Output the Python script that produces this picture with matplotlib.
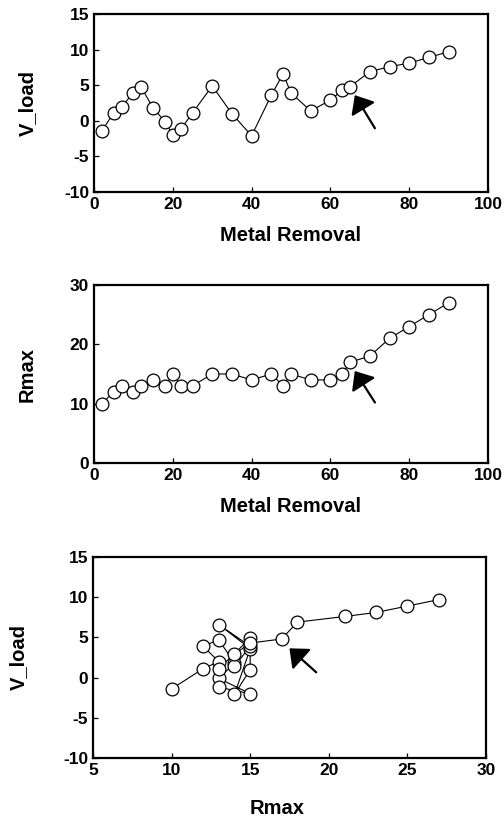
import matplotlib
matplotlib.use("Agg")
import matplotlib.pyplot as plt

plt.rcParams['font.family'] = ['Liberation Sans', 'DejaVu Sans']
plt.rcParams['axes.unicode_minus'] = False

# ---- data ----
metal_removal = [2, 5, 7, 10, 12, 15, 18, 20, 22, 25, 30, 35, 40, 45, 48, 50,
                 55, 60, 63, 65, 70, 75, 80, 85, 90]
v_load = [-1.4, 1.1, 2.0, 3.9, 4.7, 1.8, -0.1, -2.0, -1.2, 1.1, 4.9, 1.0, -2.1,
          3.6, 6.6, 3.9, 1.4, 2.9, 4.3, 4.8, 6.9, 7.6, 8.1, 8.9, 9.7]
rmax = [10, 12, 13, 12, 13, 14, 13, 15, 13, 13, 15, 15, 14, 15, 13, 15,
        14, 14, 15, 17, 18, 21, 23, 25, 27]

# arrows: (tip, tail) in data coordinates
arrow1 = ((66.2, 3.6), (71.3, -1.05))
arrow2 = ((66.2, 15.5), (71.3, 10.2))
arrow3 = ((17.5, 3.64), (19.2, 0.66))

W, H = 504, 821
fig = plt.figure(figsize=(W / 100, H / 100), dpi=100)

def px_axes(left, right, top, bottom):
    return fig.add_axes([left / W, 1 - bottom / H, (right - left) / W, (bottom - top) / H])

ax1 = px_axes(94, 488, 14, 192)
ax2 = px_axes(94, 488, 285, 463)
ax3 = px_axes(93, 486, 557, 758)

TICK_FS = 12.5
LABEL_FS = 14.5
WEIGHT = 'bold'

def style(ax, xlim, ylim, xticks, yticks, xlabel, ylabel, xl_y, yl_x, xl_x=0.5):
    ax.set_xlim(*xlim)
    ax.set_ylim(*ylim)
    ax.set_xticks(xticks)
    ax.set_yticks(yticks)
    for s in ax.spines.values():
        s.set_linewidth(1.6)
    ax.tick_params(direction='in', length=3.5, width=0.9, top=False, right=False,
                   labelsize=TICK_FS, pad=3.5)
    for lab in ax.get_xticklabels() + ax.get_yticklabels():
        lab.set_fontweight(WEIGHT)
    ax.set_xlabel(xlabel, fontsize=LABEL_FS, fontweight=WEIGHT, va='baseline')
    ax.xaxis.set_label_coords(xl_x, xl_y)
    ax.set_ylabel(ylabel, fontsize=LABEL_FS, fontweight=WEIGHT, va='center')
    ax.yaxis.set_label_coords(yl_x, 0.5)

def series(ax, x, y):
    ax.plot(x, y, color='black', lw=0.8, marker='o', ms=9.2, mfc='white',
            mec='black', mew=0.9, zorder=3, clip_on=False)

def arrow(ax, a):
    tip, tail = a
    ax.annotate('', xy=tip, xytext=tail,
                arrowprops=dict(arrowstyle='-|>,head_length=1.0,head_width=0.85',
                                mutation_scale=10, color='black', lw=1.6,
                                shrinkA=0, shrinkB=0), zorder=4)

series(ax1, metal_removal, v_load)
style(ax1, (0, 100), (-10, 15), range(0, 101, 20), range(-10, 16, 5),
      'Metal Removal', 'V_load', -49 / 178, -0.170)
arrow(ax1, arrow1)

series(ax2, metal_removal, rmax)
style(ax2, (0, 100), (0, 30), range(0, 101, 20), range(0, 31, 10),
      'Metal Removal', 'Rmax', -49 / 178, -0.170)
arrow(ax2, arrow2)

series(ax3, rmax, v_load)
style(ax3, (5, 30), (-10, 15), range(5, 31, 5), range(-10, 16, 5),
      'Rmax', 'V_load', -56 / 201, -0.191, xl_x=0.468)
arrow(ax3, arrow3)

fig.savefig('out.png', dpi=100)
